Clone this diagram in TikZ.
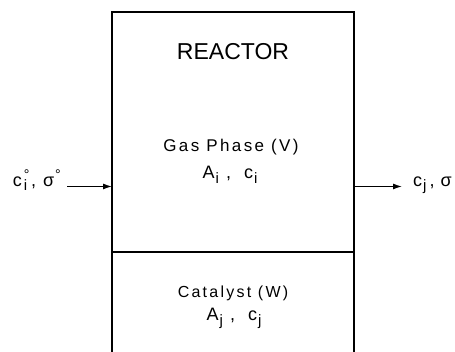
\documentclass[tikz,border=0pt]{standalone}
\usepackage{fontspec}
\setmainfont{Liberation Sans}
\newfontfamily\spaced[LetterSpace=14]{Liberation Sans}
\usetikzlibrary{arrows.meta}
\newcommand{\sub}[1]{\raisebox{-4.5pt}{\fontsize{15}{17}\selectfont #1}}
\newcommand{\subdeg}[1]{\rlap{\raisebox{7pt}{\fontsize{14}{16}\selectfont °}}\raisebox{-4.5pt}{\fontsize{15}{17}\selectfont #1}}
\newcommand{\degsym}{\raisebox{7pt}{\fontsize{14}{16}\selectfont °}}
\begin{document}
\begin{tikzpicture}[x=1pt,y=1pt,
  wall/.style={line width=1.3pt, line cap=rect},
  lbl/.style={inner sep=0pt, font=\spaced\fontsize{16}{18}\selectfont},
  sym/.style={inner sep=0pt, font=\fontsize{18}{20}\selectfont},
  flow/.style={-{Latex[length=9pt,width=6pt]}, line width=1.2pt}]
\useasboundingbox (0,0) rectangle (455,352);
\coordinate (tl) at (112,340);
\coordinate (tr) at (354,340);
\coordinate (bl) at (112,-2);
\coordinate (br) at (354,-2);
\coordinate (ml) at (112,100);
\coordinate (mr) at (354,100);
\coordinate (inend) at (112,165.5);
\coordinate (outstart) at (354,165.5);
\draw[wall] (bl) -- (tl) -- (tr) -- (br);
\draw[wall] (ml) -- (mr);
\node[inner sep=0pt, font=\fontsize{23}{26}\selectfont] (title) at (233,300) {REACTOR};
\node[lbl, font=\spaced\fontsize{17}{20}\selectfont] (gas) at (231,205) {Gas Phase (V)};
\node[sym, anchor=base] (gasv) at (230,173) {A\hspace{1pt}\sub{i}\hspace{7pt},\hspace{13pt}c\hspace{1pt}\sub{i}};
\node[lbl] (cat) at (233,59) {Catalyst (W)};
\node[sym, anchor=base] (catv) at (234,31) {A\hspace{1pt}\sub{j}\hspace{7pt},\hspace{13pt}c\hspace{1pt}\sub{j}};
\node[sym, anchor=base east] (in) at (61,165.5) {c\hspace{2pt}\subdeg{i}\hspace{4pt},\hspace{7pt}σ\hspace{1pt}\degsym};
\node[sym, anchor=base west] (out) at (413,165.5) {c\hspace{1pt}\sub{j}\hspace{3pt},\hspace{6pt}σ};
\draw[flow] ([xshift=6pt]in.east |- inend) -- (inend);
\draw[flow] (outstart) -- ([xshift=-11pt]out.west |- outstart);
\end{tikzpicture}
\end{document}
